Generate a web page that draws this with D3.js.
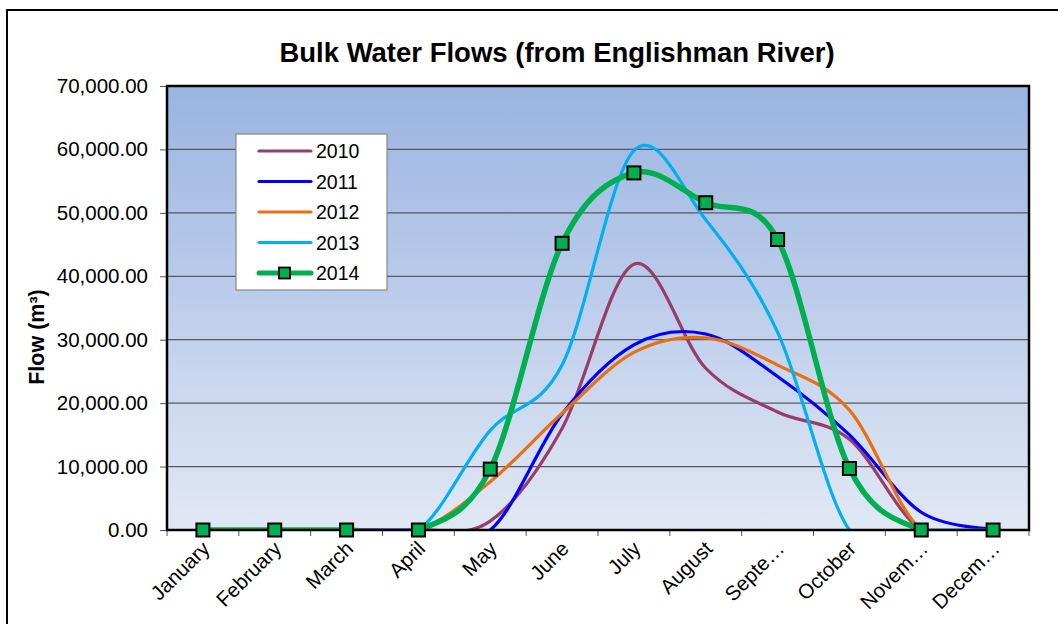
<!DOCTYPE html>
<html>
<head>
<meta charset="utf-8">
<script src="https://cdn.jsdelivr.net/npm/d3@7"></script>
<style>
  html, body { margin: 0; padding: 0; background: #fff; }
  svg { display: block; font-family: Arial, "Liberation Sans", sans-serif; }
</style>
</head>
<body>
<svg id="chart" width="1058" height="624"></svg>
<script>
const months = ["January","February","March","April","May","June","July","August","September","October","November","December"];
const monthLabels = ["January","February","March","April","May","June","July","August","Septe…","October","Novem…","Decem…"];
const seriesNames = ["2010","2011","2012","2013","2014"];
const flow2010 = [0,0,0,0,1400,16000,41900,25500,18600,14300,0,0];
const flow2011 = [0,0,0,0,0,18300,29200,30900,24200,15000,2800,200];
const flow2012 = [0,0,0,0,7600,18400,28000,30300,26000,18900,0,0];
const flow2013 = [0,0,0,0,15700,26000,59800,48900,31200,0,0,0];
const flow2014 = [0,0,0,0,9600,45200,56300,51600,45800,9700,0,0];
const yTicks = [0,10000,20000,30000,40000,50000,60000,70000];
const seriesColors = ["#983C6C","#0000FF","#E8710F","#00B0F0","#00B050"];

const seriesValues = [flow2010, flow2011, flow2012, flow2013, flow2014];

const svg = d3.select("#chart");
const pL = 167, pR = 1029, pT = 86, pB = 530;

// outer chart border
svg.append("rect").attr("x", 7).attr("y", 10).attr("width", 1070).attr("height", 640)
  .attr("fill", "#fff").attr("stroke", "#000").attr("stroke-width", 2);

const x = d3.scaleBand().domain(months).range([pL, pR]).paddingInner(0).paddingOuter(0);
const y = d3.scaleLinear().domain([0, 70000]).range([pB, pT]);

// gradient background
const defs = svg.append("defs");
const grad = defs.append("linearGradient").attr("id", "bg").attr("x1", 0).attr("y1", 0).attr("x2", 0).attr("y2", 1);
grad.append("stop").attr("offset", "0%").attr("stop-color", "#9AB4E1");
grad.append("stop").attr("offset", "100%").attr("stop-color", "#E1E8F5");
defs.append("clipPath").attr("id", "clip").append("rect")
  .attr("x", pL).attr("y", pT - 20).attr("width", pR - pL).attr("height", pB - pT + 20);

svg.append("rect").attr("x", pL).attr("y", pT).attr("width", pR - pL).attr("height", pB - pT)
  .attr("fill", "url(#bg)");

// gridlines
svg.append("g").selectAll("line").data(yTicks.filter(d => d > 0 && d < 70000)).join("line")
  .attr("x1", pL).attr("x2", pR).attr("y1", d => y(d)).attr("y2", d => y(d))
  .attr("stroke", "#555a66").attr("stroke-width", 1.3);

// title
svg.append("text").attr("x", 557).attr("y", 62).attr("text-anchor", "middle")
  .attr("font-size", 27.5).attr("font-weight", "bold").attr("fill", "#000")
  .text("Bulk Water Flows (from Englishman River)");

// y axis
const yAxis = d3.axisLeft(y).tickValues(yTicks).tickSize(7).tickPadding(12)
  .tickFormat(d => d3.format(",.2f")(d));
const gy = svg.append("g").attr("transform", `translate(${pL},0)`).call(yAxis);
gy.select(".domain").remove();
gy.selectAll(".tick line").attr("stroke", "#555");
gy.selectAll(".tick text").attr("x", -19).attr("font-size", 20.5).attr("fill", "#000")
  .attr("font-family", "Arial, 'Liberation Sans', sans-serif");

svg.append("text").attr("transform", "translate(44,337) rotate(-90)").attr("text-anchor", "middle")
  .attr("font-size", 21.5).attr("font-weight", "bold").attr("fill", "#000").text("Flow (m³)");

// x axis ticks at band boundaries
const boundaries = months.map(m => x(m)).concat([pR]);
svg.append("g").selectAll("line").data(boundaries).join("line")
  .attr("x1", d => d).attr("x2", d => d).attr("y1", pB).attr("y2", pB + 6)
  .attr("stroke", "#555").attr("stroke-width", 1);

svg.append("g").selectAll("text").data(months).join("text")
  .attr("transform", (d) => `translate(${x(d) + x.bandwidth() / 2 + 8},${pB + 20}) rotate(-45)`)
  .attr("text-anchor", "end").attr("font-size", 20.5).attr("fill", "#000")
  .text((d, i) => monthLabels[i]);

// lines
const line = d3.line()
  .x((d, i) => x(months[i]) + x.bandwidth() / 2)
  .y(d => y(d))
  .curve(d3.curveCatmullRom.alpha(0));

const gLines = svg.append("g").attr("clip-path", "url(#clip)");
seriesValues.forEach((vals, k) => {
  gLines.append("path").datum(vals)
    .attr("d", line).attr("fill", "none")
    .attr("stroke", seriesColors[k])
    .attr("stroke-width", k === 4 ? 5.5 : 3.2)
    .attr("stroke-linejoin", "round").attr("stroke-linecap", "round");
});

// plot border
svg.append("rect").attr("x", pL).attr("y", pT).attr("width", pR - pL).attr("height", pB - pT)
  .attr("fill", "none").attr("stroke", "#000").attr("stroke-width", 2.5);

// markers for 2014
svg.append("g").selectAll("rect").data(flow2014).join("rect")
  .attr("x", (d, i) => x(months[i]) + x.bandwidth() / 2 - 6.5)
  .attr("y", d => y(d) - 6.5)
  .attr("width", 13).attr("height", 13)
  .attr("fill", "#00B050").attr("stroke", "#000").attr("stroke-width", 2);

// legend
const lg = svg.append("g");
lg.append("rect").attr("x", 236).attr("y", 134).attr("width", 151).attr("height", 156)
  .attr("fill", "#fff").attr("stroke", "#888").attr("stroke-width", 1.2);
seriesNames.forEach((name, k) => {
  const yy = 151 + k * 30.5;
  lg.append("line").attr("x1", 259).attr("x2", 311).attr("y1", yy).attr("y2", yy)
    .attr("stroke", seriesColors[k]).attr("stroke-width", k === 4 ? 5 : 3.2).attr("stroke-linecap", "round");
  if (k === 4) {
    lg.append("rect").attr("x", 279).attr("y", yy - 5.5).attr("width", 11).attr("height", 11)
      .attr("fill", "#00B050").attr("stroke", "#000").attr("stroke-width", 1.8);
  }
  lg.append("text").attr("x", 316).attr("y", yy + 7).attr("font-size", 19.5).attr("fill", "#000").text(name);
});
</script>
</body>
</html>
